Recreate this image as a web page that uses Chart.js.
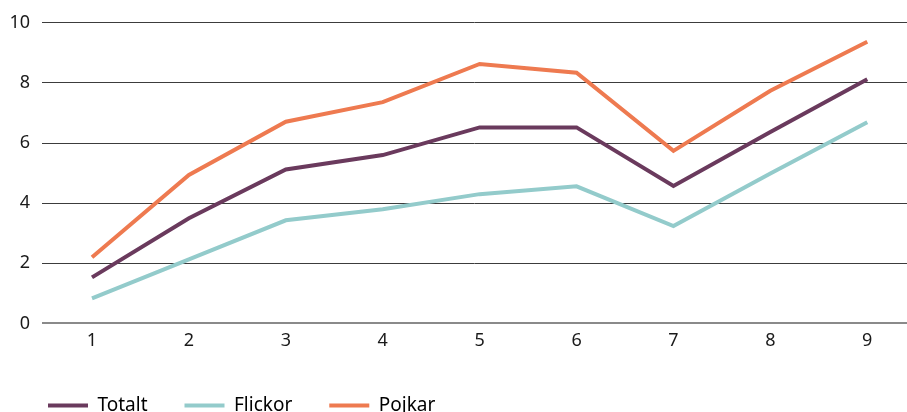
<!DOCTYPE html>
<html>
<head>
<meta charset="utf-8">
<script src="https://cdn.jsdelivr.net/npm/chart.js@4/dist/chart.umd.min.js"></script>
<style>
  html, body { margin: 0; padding: 0; background: #fff; }
  #wrap { width: 907px; height: 412px; }
</style>
</head>
<body>
<div id="wrap"><canvas id="chart"></canvas></div>
<script>
// Data
const categories = [1, 2, 3, 4, 5, 6, 7, 8, 9];
const totalt  = [1.53, 3.5, 5.12, 5.6, 6.52, 6.52, 4.57, 6.37, 8.12];
const flickor = [0.83, 2.13, 3.43, 3.8, 4.3, 4.56, 3.24, 4.99, 6.69];
const pojkar  = [2.2, 4.94, 6.71, 7.36, 8.63, 8.34, 5.74, 7.74, 9.37];
const yTicks  = [0, 2, 4, 6, 8, 10];

const FONT = "'Noto Sans', 'Open Sans', sans-serif";
Chart.defaults.font.family = FONT;
Chart.defaults.color = '#1a1a1a';

const toPoints = arr => arr.map((v, i) => ({ x: categories[i], y: v }));

const serie = (label, data, color) => ({
  label,
  data: toPoints(data),
  borderColor: color,
  backgroundColor: color,
  borderWidth: 4,
  pointRadius: 0,
  tension: 0,
  fill: false
});

new Chart(document.getElementById('chart'), {
  type: 'line',
  data: {
    datasets: [
      serie('Totalt', totalt, '#6a3a5d'),
      serie('Flickor', flickor, '#93cbcb'),
      serie('Pojkar', pojkar, '#ee7a50')
    ]
  },
  options: {
    responsive: true,
    maintainAspectRatio: false,
    animation: false,
    layout: { padding: { left: 11, right: 0, top: 20, bottom: 0 } },
    plugins: {
      tooltip: { enabled: false },
      legend: {
        position: 'bottom',
        align: 'start',
        maxHeight: 53,
        labels: {
          boxWidth: 40,
          boxHeight: 4,
          padding: 37,
          color: '#1a1a1a',
          font: { size: 19 },
          generateLabels: chart => chart.data.datasets.map((ds, i) => ({
            text: ds.label,
            fillStyle: ds.borderColor,
            strokeStyle: ds.borderColor,
            lineWidth: 0,
            datasetIndex: i
          }))
        }
      }
    },
    scales: {
      x: {
        type: 'linear',
        min: 0.484,
        max: 9.41,
        grid: { display: false, drawTicks: false },
        border: { display: false },
        ticks: {
          stepSize: 1,
          includeBounds: false,
          padding: 7,
          font: { size: 18 },
          color: '#1a1a1a'
        }
      },
      y: {
        min: 0,
        max: 10,
        afterBuildTicks: axis => { axis.ticks = yTicks.map(v => ({ value: v })); },
        afterFit: axis => { axis.width = 31; },
        grid: {
          drawTicks: false,
          color: ctx => ctx.tick && ctx.tick.value === 0 ? '#8a8a8a' : '#3c3c3c',
          lineWidth: ctx => ctx.tick && ctx.tick.value === 0 ? 2 : 1
        },
        border: { display: false },
        ticks: {
          padding: 12,
          font: { size: 18 },
          color: '#1a1a1a'
        }
      }
    }
  }
});
</script>
</body>
</html>
